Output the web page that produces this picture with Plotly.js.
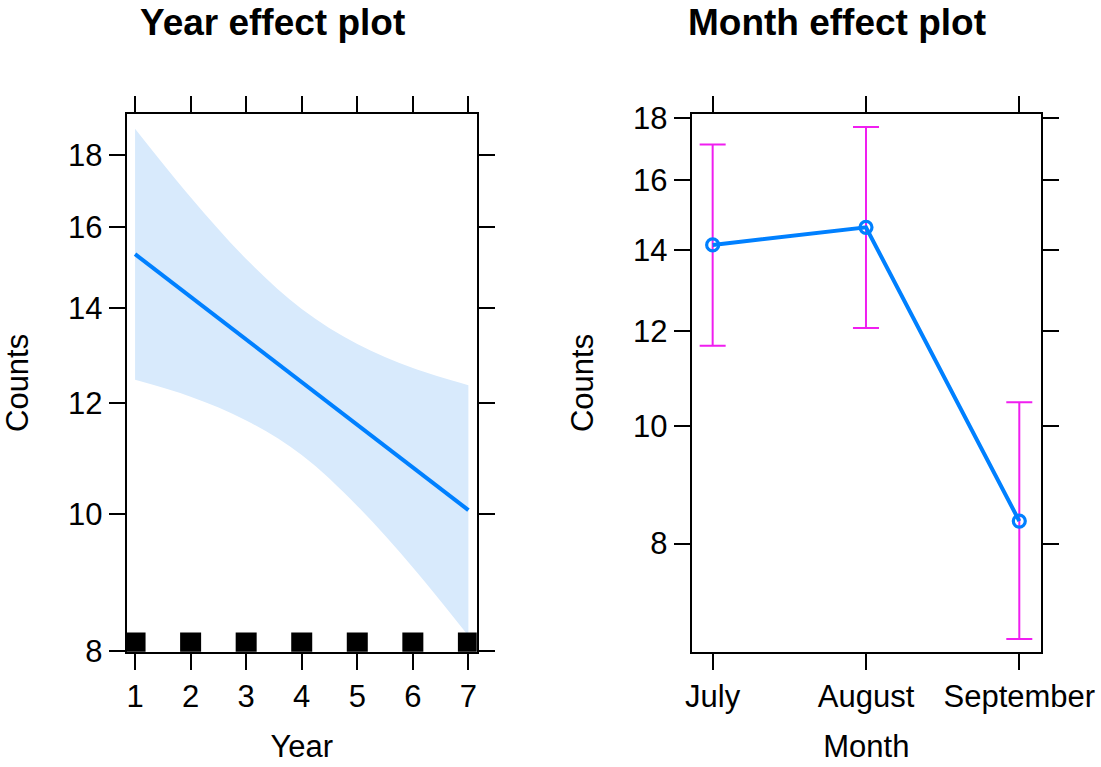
<!DOCTYPE html>
<html>
<head>
<meta charset="utf-8">
<script src="https://cdn.plot.ly/plotly-3.0.1.min.js"></script>
<style>html,body{margin:0;padding:0;background:#fff;}#chart{width:1101px;height:767px;}</style>
</head>
<body>
<div id="chart"></div>
<script>
// ---- data ----
const years = [1, 2, 3, 4, 5, 6, 7];
const yearFit   = [15.30, 14.27, 13.30, 12.41, 11.58, 10.79, 10.07];
const yearUpper = [18.78, 16.79, 15.18, 13.99, 13.21, 12.70, 12.35];
const yearLower = [12.46, 12.12, 11.66, 11.02, 10.14, 9.17, 8.20];
const rugYears  = [1, 2, 3, 4, 5, 6, 7];

const months     = ['July', 'August', 'September'];
const monthFit   = [14.13, 14.61, 8.35];
const monthUpper = [17.11, 17.69, 10.47];
const monthLower = [11.66, 12.06, 6.67];

const countTicks = [8, 10, 12, 14, 16, 18];

// ---- styles ----
const FONT = 'Liberation Sans, Arial, Helvetica, sans-serif';
const BLUE = '#0080ff';
const BAND = '#d8eafc';
const MAG = '#f01ef0';

const traces = [
  {x: years, y: yearLower, xaxis: 'x', yaxis: 'y', mode: 'lines',
   line: {width: 0, shape: 'spline', color: BAND}, hoverinfo: 'skip', showlegend: false},
  {x: years, y: yearUpper, xaxis: 'x', yaxis: 'y', mode: 'lines', fill: 'tonexty',
   fillcolor: BAND, line: {width: 0, shape: 'spline', color: BAND}, hoverinfo: 'skip', showlegend: false},
  {x: years, y: yearFit, xaxis: 'x', yaxis: 'y', mode: 'lines',
   line: {width: 4, color: BLUE}, showlegend: false},
  {x: rugYears, y: rugYears.map(() => 0.016), xaxis: 'x', yaxis: 'y3', mode: 'markers',
   marker: {symbol: 'square', size: 21, color: '#000'}, cliponaxis: true, showlegend: false},
  {x: months, y: monthFit, xaxis: 'x2', yaxis: 'y2', mode: 'markers',
   marker: {size: 1, opacity: 0},
   error_y: {type: 'data', symmetric: false,
     array: monthUpper.map((u, i) => u - monthFit[i]),
     arrayminus: monthFit.map((f, i) => f - monthLower[i]),
     color: MAG, thickness: 2, width: 13},
   showlegend: false},
  {x: months, y: monthFit, xaxis: 'x2', yaxis: 'y2', mode: 'lines+markers',
   line: {width: 4, color: BLUE},
   marker: {symbol: 'circle-open', size: 12, color: BLUE, line: {width: 3.2, color: BLUE}},
   showlegend: false}
];

const axisCommon = {
  showline: true, mirror: 'allticks', linecolor: '#000', linewidth: 2,
  ticks: 'outside', ticklen: 16, tickwidth: 2, tickcolor: '#000',
  showgrid: false, zeroline: false, automargin: false,
  tickfont: {family: FONT, size: 31, color: '#000'}
};
const titleFont = {family: FONT, size: 31, color: '#000'};
const yDomain = [0.1503, 0.8513];

const layout = {
  width: 1101, height: 767,
  margin: {l: 0, r: 0, t: 0, b: 0},
  paper_bgcolor: '#fff', plot_bgcolor: '#fff',
  showlegend: false,
  font: {family: FONT, color: '#000'},
  xaxis: Object.assign({}, axisCommon, {
    anchor: 'y',
    domain: [0.1151, 0.4330], range: [0.85, 7.15],
    tickvals: years, ticktext: years.map(String),
    title: {text: 'Year', font: titleFont, standoff: 22}
  }),
  yaxis: Object.assign({}, axisCommon, {
    anchor: 'x',
    domain: yDomain, type: 'log', range: [Math.log10(7.99), Math.log10(19.235)],
    tickvals: countTicks, ticktext: countTicks.map(String),
    title: {text: 'Counts', font: titleFont, standoff: 30}
  }),
  yaxis3: {overlaying: 'y', anchor: 'x', range: [0, 1], visible: false, fixedrange: true},
  xaxis2: Object.assign({}, axisCommon, {
    anchor: 'y2',
    domain: [0.6282, 0.9455], type: 'category', range: [-0.137, 2.1415],
    categoryorder: 'array', categoryarray: months,
    title: {text: 'Month', font: titleFont, standoff: 22}
  }),
  yaxis2: Object.assign({}, axisCommon, {
    anchor: 'x2',
    domain: yDomain, type: 'log', range: [Math.log10(6.51), Math.log10(18.13)],
    tickvals: countTicks, ticktext: countTicks.map(String),
    title: {text: 'Counts', font: titleFont, standoff: 30}
  }),
  annotations: [
    {text: '<b>Year effect plot</b>', xref: 'paper', yref: 'paper', x: 272 / 1101, y: 1 - 22 / 767,
     xanchor: 'center', yanchor: 'middle', showarrow: false, font: {family: FONT, size: 37, color: '#000'}},
    {text: '<b>Month effect plot</b>', xref: 'paper', yref: 'paper', x: 837 / 1101, y: 1 - 22 / 767,
     xanchor: 'center', yanchor: 'middle', showarrow: false, font: {family: FONT, size: 37, color: '#000'}}
  ]
};

Plotly.newPlot('chart', traces, layout, {displayModeBar: false, staticPlot: true});
</script>
</body>
</html>
